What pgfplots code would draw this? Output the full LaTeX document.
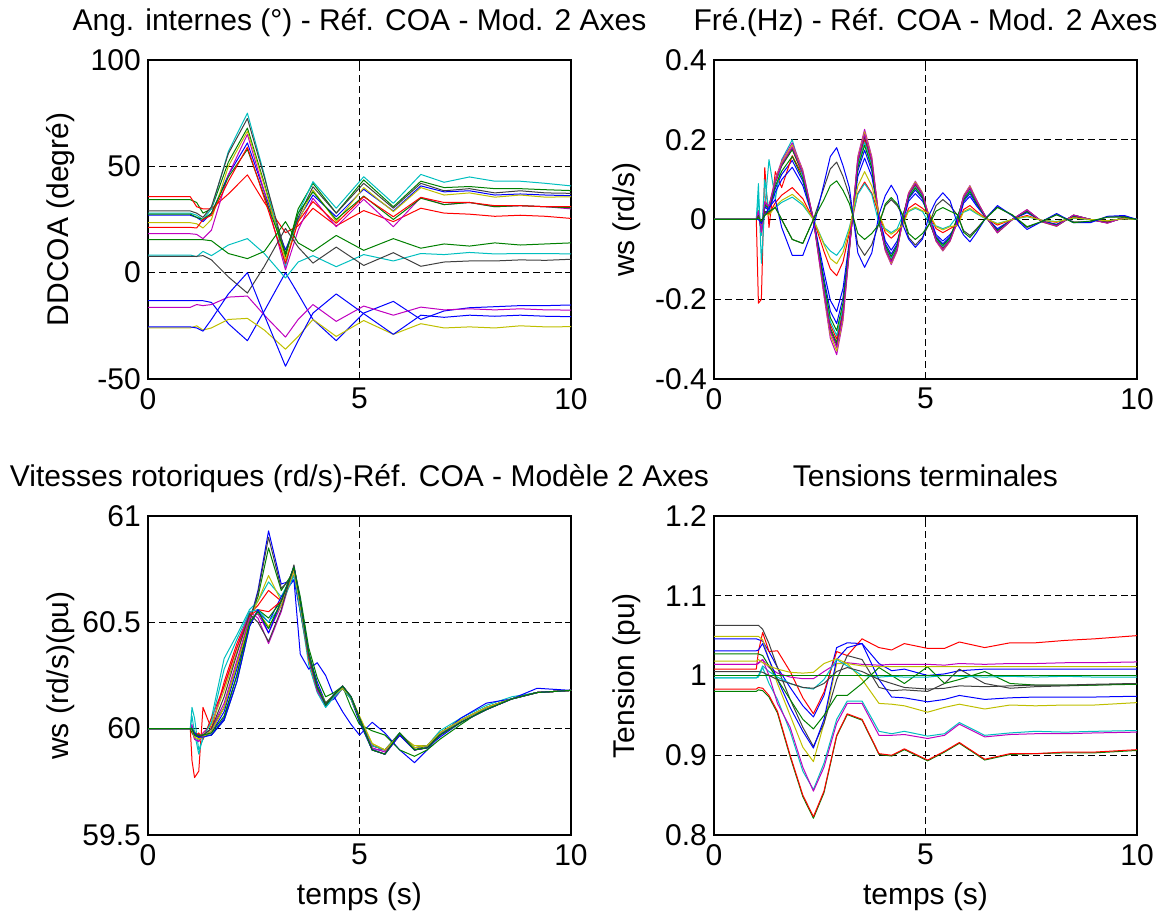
\documentclass[border=0pt]{standalone}
\usepackage{fontspec}
\setmainfont{Liberation Sans}
\usepackage{pgfplots}
\usepackage{pgfplotstable}
\pgfplotsset{compat=1.18}

\definecolor{mb}{rgb}{0,0,1}
\definecolor{mg}{rgb}{0,0.5,0}
\definecolor{mr}{rgb}{1,0,0}
\definecolor{mc}{rgb}{0,0.75,0.75}
\definecolor{mm}{rgb}{0.75,0,0.75}
\definecolor{my}{rgb}{0.75,0.75,0}
\definecolor{mk}{rgb}{0.25,0.25,0.25}

\newcommand\fs{\fontsize{30bp}{34bp}\selectfont}

% angles internes (deg)
\pgfplotstableread{
t bl1 gr1 rd1 cy1 mg1 ye1 gy1 bl2 gr2 rd2 cy2 mg2 ye2 gy2 bl3 gr3
0 27 34.3 35.7 28 18.3 23.5 29 -13.2 27.5 21.3 8.3 -16.3 -26 7.7 -25.5 15.5
1.0 27 34.3 35.7 28 18.3 23.5 29 -13.2 27.5 21.3 8.3 -16.3 -26 7.7 -25.5 15.5
1.15 26 33 31 27 18 23 28 -13.2 26 21 7.5 -15 -25 7.7 -26 15.5
1.3 24 28 30 25 16 21 26 -13.2 25 25 10 -15.5 -27 8 -27.5 15.5
1.5 28 30 30 30 20 25 31 -14 28 27 8 -15 -26 6 -22 15
1.9 46 52 37 57 46 50 56 -24 45 43 13 -11.5 -22 -2 -10 9
2.35 61 68 46 75 65 66.5 72.5 -32 58 59 16 -11 -21.5 -9.6 0 6.6
2.75 38 42 33 46 38 41 45 -18 36 35 9 -20 -27 3 -20 10
3.25 10.7 7.5 18.8 2.8 1.3 6 9 0 9 4.4 -2.5 -30.3 -36 20.8 -44 24
3.55 25 30 22 28 20 24 26 -10 28 24 5 -22 -30 12 -32 14
3.9 36.5 42 30.3 42.8 35 38.9 40.4 -22 38 33.4 8 -15 -22 4.5 -19 10
4.45 26.3 28 22 30.3 21.6 24 28 -32 25 23.2 2.8 -22.9 -30 12 -10 17.5
5.1 39.2 43.6 29.2 45.1 34.5 40 42 -19 36 35.7 8.5 -15.7 -22.5 3.4 -19.3 10.5
5.8 29 31 24 32.6 21.6 28.7 30.3 -13.5 25 26.3 5.5 -20 -29 9.4 -29 16
6.45 40.8 43 30.3 46.2 35.4 40 42 -22 35 35.4 9 -16.2 -24 3 -20 11.5
7.0 38 40 28 42.5 32 36.5 38.5 -18 32 33 8.5 -17.5 -26 5 -21 13.5
7.6 38.5 40.5 27.5 45 33 37.5 39.5 -16.5 33 33 9.5 -17 -25.5 5.5 -20 12.5
8.2 36.5 39.5 26.5 43 31 35.5 37.5 -16 31 31.5 8.8 -17.5 -26 5.5 -20.5 14
8.8 37 39.5 27 43 31.5 36.5 38.5 -15.5 31.5 31.5 9 -17 -25 6 -20 13
9.4 36.5 39 26.5 42 31 35.5 37.5 -15.5 31 31 9 -17.5 -25.5 5.8 -20.5 13.5
10 36.2 38.6 25.5 40.8 30 35.7 37.3 -15.2 30.5 31 8.8 -17.6 -25.4 6.3 -20.7 14
}\tangle

% frequences
\pgfplotstableread{
t bl1 gr1 rd1 cy1 mg1 ye1 gy1 bl2 gr2 rd2 cy2 mg2 ye2 gy2 bl3 gr3
0 0 0 0 0 0 0 0 0 0 0 0 0 0 0 0 0
1.0 0 0 0 0 0 0 0 0 0 0 0 0 0 0 0 0
1.05 0.017 0.021 -0.21 0.09 0.023 0.022 0.021 0.015 0.019 0.009 0.05 0.021 0.007 0.01 0 0.005
1.12 -0.026 -0.031 -0.2 -0.11 -0.034 -0.033 -0.032 -0.023 -0.028 -0.014 -0.04 -0.032 -0.011 -0.01 -0.01 -0.005
1.2 0.035 0.041 0.13 0.03 0.045 0.044 0.042 0.031 0.037 0.019 0.1 0.043 0.015 0.02 0.01 0.01
1.3 0.026 0.031 -0.02 0.15 0.034 0.033 0.032 0.023 0.028 0.014 0.02 0.032 0.011 0.02 0.03 0.02
1.45 0.078 0.093 0.12 0.05 0.102 0.099 0.095 0.069 0.084 0.042 0.03 0.096 0.033 0.03 0.05 0.03
1.6 0.113 0.134 0.08 0.15 0.147 0.143 0.137 0.1 0.121 0.061 0.043 0.139 0.048 0 -0.02 0
1.85 0.148 0.175 0.16 0.2 0.192 0.187 0.179 0.131 0.158 0.08 0.056 0.182 0.063 -0.05 -0.09 -0.05
2.1 0.096 0.113 0.11 0.107 0.124 0.121 0.116 0.085 0.102 0.052 0.036 0.118 0.041 -0.06 -0.09 -0.06
2.35 0 0 0 0 0 0 0 0 0 0 0 0 0 0 -0.02 0
2.6 -0.148 -0.175 -0.17 -0.165 -0.192 -0.187 -0.179 -0.131 -0.158 -0.08 -0.06 -0.182 -0.063 0.08 0.09 0.05
2.75 -0.23 -0.272 -0.264 -0.256 -0.298 -0.29 -0.277 -0.203 -0.246 -0.124 -0.079 -0.282 -0.098 0.127 0.158 0.085
2.9 -0.261 -0.309 -0.3 -0.291 -0.339 -0.33 -0.315 -0.231 -0.279 -0.141 -0.09 -0.321 -0.111 0.144 0.18 0.097
3.05 -0.196 -0.232 -0.225 -0.218 -0.254 -0.248 -0.236 -0.173 -0.209 -0.106 -0.068 -0.241 -0.083 0.108 0.135 0.073
3.2 -0.061 -0.072 -0.07 -0.068 -0.079 -0.077 -0.074 -0.054 -0.065 -0.033 -0.02 -0.075 -0.026 0.06 0.08 0.04
3.4 0.122 0.144 0.14 0.136 0.158 0.154 0.147 0.108 0.13 0.066 0.063 0.15 0.084 -0.063 -0.084 -0.035
3.56 0.174 0.206 0.2 0.194 0.226 0.22 0.21 0.154 0.186 0.094 0.09 0.214 0.12 -0.09 -0.12 -0.05
3.73 0.122 0.144 0.14 0.136 0.158 0.154 0.147 0.108 0.13 0.066 0.063 0.15 0.084 -0.063 -0.084 -0.035
3.9 0.005 -0.005 0.008 -0.006 0 0.004 -0.004 0.01 -0.008 0.012 -0.01 0.003 0.015 -0.01 0.012 -0.012
4.05 -0.061 -0.072 -0.07 -0.068 -0.079 -0.077 -0.074 -0.054 -0.065 -0.033 -0.023 -0.075 -0.026 0.035 0.06 0.039
4.19 -0.087 -0.103 -0.1 -0.097 -0.113 -0.11 -0.105 -0.077 -0.093 -0.047 -0.033 -0.107 -0.037 0.05 0.086 0.055
4.33 -0.061 -0.072 -0.07 -0.068 -0.079 -0.077 -0.074 -0.054 -0.065 -0.033 -0.023 -0.075 -0.026 0.035 0.06 0.039
4.46 -0.005 0.005 -0.008 0.006 0 -0.004 0.004 -0.01 0.008 -0.012 0.01 -0.003 -0.015 0.01 -0.012 0.012
4.6 0.052 0.062 0.06 0.057 0.067 0.066 0.062 0.046 0.055 0.028 0.02 0.064 0.022 -0.045 -0.049 -0.035
4.76 0.074 0.088 0.085 0.082 0.096 0.094 0.089 0.065 0.079 0.04 0.028 0.091 0.031 -0.064 -0.07 -0.05
4.93 0.052 0.062 0.06 0.057 0.067 0.066 0.062 0.046 0.055 0.028 0.02 0.064 0.022 -0.045 -0.049 -0.035
5.09 0.005 -0.005 0.008 -0.006 0 0.004 -0.004 0.01 -0.008 0.012 -0.01 0.003 0.015 -0.01 0.012 -0.012
5.25 -0.043 -0.05 -0.049 -0.048 -0.055 -0.054 -0.052 -0.038 -0.046 -0.023 -0.016 -0.053 -0.018 0.035 0.047 0.021
5.41 -0.061 -0.072 -0.07 -0.068 -0.079 -0.077 -0.074 -0.054 -0.065 -0.033 -0.023 -0.075 -0.026 0.05 0.067 0.03
5.58 -0.043 -0.05 -0.049 -0.048 -0.055 -0.054 -0.052 -0.038 -0.046 -0.023 -0.016 -0.053 -0.018 0.035 0.047 0.021
5.76 -0.005 0.005 -0.008 0.006 0 -0.004 0.004 -0.01 0.008 -0.012 0.01 -0.003 -0.015 0.01 -0.012 0.012
5.9 0.046 0.054 0.053 0.051 0.06 0.058 0.055 0.041 0.049 0.025 0.018 0.056 0.02 -0.028 -0.039 -0.032
6.05 0.065 0.077 0.075 0.073 0.085 0.083 0.079 0.058 0.07 0.035 0.025 0.08 0.028 -0.04 -0.056 -0.045
6.2 0.039 0.046 0.045 0.044 0.051 0.05 0.047 0.035 0.042 0.021 0.015 0.048 0.017 -0.024 -0.034 -0.027
6.4 0.009 0.01 0.01 0.01 0.011 0.011 0.011 0.008 0.009 0.005 0.003 0.011 0.004 0 0 0
6.7 -0.026 -0.031 -0.03 -0.029 -0.034 -0.033 -0.032 -0.023 -0.028 -0.014 -0.01 -0.032 -0.011 0.032 0.035 0.03
7.05 0 0 0 0 0 0 0 0 0 0 0 0 0 0.01 0.01 0.012
7.4 0.019 0.023 0.022 0.021 0.025 0.024 0.023 0.017 0.02 0.01 0.007 0.024 0.008 -0.02 -0.025 -0.018
7.75 -0.004 -0.005 -0.005 -0.005 -0.006 -0.006 -0.005 -0.004 -0.005 -0.002 -0.002 -0.005 -0.002 -0.005 -0.005 -0.005
8.1 -0.013 -0.015 -0.015 -0.015 -0.017 -0.017 -0.016 -0.012 -0.014 -0.007 -0.005 -0.016 -0.006 0.012 0.015 0.012
8.5 0.009 0.01 0.01 0.01 0.011 0.011 0.011 0.008 0.009 0.005 0.003 0.011 0.004 -0.006 -0.008 -0.008
8.9 0 0 0 0 0 0 0 0 0 0 0 0 0 -0.006 -0.008 -0.004
9.3 -0.007 -0.008 -0.008 -0.008 -0.009 -0.009 -0.008 -0.006 -0.007 -0.004 -0.003 -0.009 -0.003 0.006 0.008 0.006
9.7 0.004 0.005 0.005 0.005 0.006 0.006 0.005 0.004 0.005 0.002 0.002 0.005 0.002 0.008 0.01 0.006
10 0 0 0 0 0 0 0 0 0 0 0 0 0 0 0 0
}\tfreq

% vitesses rotoriques
\pgfplotstableread{
t bl1 gr1 rd1 cy1 mg1 ye1 gy1 bl2 gr2 rd2 cy2 mg2 ye2 gy2 bl3 gr3
0 60 60 60 60 60 60 60 60 60 60 60 60 60 60 60 60
1.0 60 60 60 60 60 60 60 60 60 60 60 60 60 60 60 60
1.04 60 60.01 59.85 60.1 60.02 60 60 60 59.98 60 60.06 60 60 60 60 60
1.1 59.97 59.98 59.77 60.05 59.95 59.99 59.98 59.98 59.96 59.96 59.98 59.95 59.96 59.97 59.98 59.97
1.2 59.96 59.96 59.8 59.9 59.94 59.95 59.97 59.96 59.97 59.98 59.88 59.94 59.95 59.96 59.96 59.97
1.3 59.97 59.97 60.1 59.95 59.98 59.97 59.96 59.97 59.97 59.95 59.96 59.97 59.96 59.97 59.96 59.97
1.5 59.98 60 60 60.05 60.02 60.02 59.99 59.97 59.97 60.05 60.03 60 59.99 60 59.97 59.98
1.8 60.08 60.1 60.22 60.33 60.2 60.18 60.1 60.05 60.04 60.2 60.28 60.12 60.1 60.15 60.04 60.06
2.1 60.28 60.3 60.4 60.44 60.38 60.36 60.3 60.25 60.22 60.38 60.42 60.32 60.3 60.35 60.22 60.25
2.4 60.5 60.52 60.54 60.56 60.55 60.52 60.5 60.5 60.48 60.53 60.55 60.52 60.5 60.54 60.48 60.5
2.6 60.65 60.62 60.58 60.6 60.52 60.6 60.64 60.55 60.56 60.56 60.56 60.54 60.55 60.5 60.56 60.55
2.85 60.93 60.85 60.65 60.69 60.4 60.72 60.9 60.5 60.52 60.55 60.5 60.45 60.48 60.41 60.45 60.47
3.15 60.68 60.65 60.6 60.62 60.55 60.6 60.66 60.62 60.6 60.6 60.58 60.58 60.58 60.56 60.6 60.6
3.45 60.7 60.74 60.76 60.74 60.76 60.75 60.72 60.7 60.76 60.75 60.72 60.74 60.74 60.77 60.76 60.76
3.6 60.55 60.55 60.58 60.56 60.6 60.58 60.56 60.35 60.62 60.57 60.56 60.58 60.58 60.6 60.6 60.6
3.8 60.35 60.33 60.33 60.3 60.33 60.32 60.34 60.28 60.38 60.33 60.34 60.34 60.35 60.34 60.36 60.36
4.0 60.22 60.2 60.18 60.17 60.18 60.18 60.2 60.31 60.24 60.18 60.18 60.18 60.2 60.19 60.2 60.2
4.2 60.12 60.12 60.11 60.1 60.11 60.11 60.12 60.25 60.15 60.11 60.1 60.11 60.12 60.12 60.11 60.11
4.4 60.14 60.16 60.16 60.15 60.16 60.15 60.15 60.15 60.17 60.15 60.15 60.16 60.16 60.16 60.16 60.16
4.6 60.19 60.2 60.2 60.19 60.2 60.19 60.2 60.08 60.2 60.19 60.19 60.2 60.19 60.2 60.2 60.2
4.8 60.14 60.14 60.15 60.14 60.15 60.14 60.15 60.02 60.1 60.14 60.14 60.15 60.15 60.15 60.15 60.15
5.0 60.03 60.04 60.05 60.05 60.05 60.05 60.05 59.97 60.02 60.05 60.05 60.05 60.06 60.05 60.05 60.05
5.3 59.9 59.9 59.92 59.92 59.9 59.93 59.92 60.03 59.99 59.92 59.92 59.91 59.93 59.9 59.9 59.9
5.6 59.9 59.88 59.9 59.9 59.88 59.9 59.9 59.98 59.97 59.9 59.9 59.89 59.9 59.88 59.88 59.88
5.95 59.97 59.98 59.97 59.98 59.97 59.97 59.98 59.9 59.9 59.97 59.97 59.97 59.97 59.97 59.97 59.98
6.3 59.9 59.9 59.91 59.91 59.9 59.92 59.91 59.84 59.87 59.91 59.91 59.9 59.91 59.9 59.9 59.9
6.6 59.91 59.92 59.92 59.92 59.91 59.92 59.92 59.9 59.9 59.92 59.92 59.91 59.92 59.91 59.91 59.91
6.9 59.96 59.97 59.98 59.99 59.97 59.98 59.98 59.97 59.95 59.98 59.98 59.97 59.98 59.97 59.97 59.97
7.4 60.03 60.03 60.04 60.05 60.03 60.04 60.04 60.05 60.02 60.04 60.04 60.03 60.04 60.03 60.03 60.03
8.0 60.09 60.09 60.1 60.11 60.09 60.1 60.1 60.12 60.1 60.1 60.1 60.09 60.1 60.09 60.09 60.09
8.6 60.14 60.14 60.14 60.15 60.14 60.14 60.14 60.14 60.14 60.14 60.14 60.14 60.14 60.14 60.14 60.14
9.2 60.17 60.17 60.17 60.17 60.17 60.17 60.17 60.19 60.17 60.17 60.17 60.17 60.17 60.17 60.17 60.17
10 60.18 60.18 60.18 60.18 60.18 60.18 60.18 60.18 60.18 60.18 60.18 60.18 60.18 60.18 60.18 60.18
}\tspeed

% tensions terminales
\pgfplotstableread{
t bl1 gr1 rd1 cy1 mg1 ye1 gy1 bl2 gr2 rd2 cy2 mg2 ye2 gy2 bl3 gr3
0 1.046 0.98 1.008 0.997 1.014 1.049 1.063 1.031 1.027 0.983 0.997 1.014 1.018 1.005 1 1
1.0 1.046 0.98 1.008 0.997 1.014 1.049 1.063 1.031 1.027 0.983 0.997 1.014 1.018 1.005 1 1
1.05 1.045 0.982 1.03 0.998 1.015 1.049 1.063 1.032 1.027 0.985 1.0 1.016 1.02 1.005 1 1
1.15 1.043 0.981 1.054 1.01 1.02 1.045 1.058 1.04 1.025 0.984 1.012 1.02 1.016 1.004 1 1
1.3 1.03 0.973 1.03 0.99 1.01 1.02 1.04 1.02 1.012 0.975 1.005 1.0 1.012 1.0 1 1
1.5 1.01 0.953 1.031 0.97 1.003 0.99 1.01 0.995 0.995 0.955 0.998 0.965 1.008 0.995 1 1
1.8 0.985 0.898 1.005 0.93 0.998 0.95 0.97 0.96 0.97 0.9 0.99 0.935 1.004 0.99 1 1
2.1 0.962 0.848 0.972 0.88 0.996 0.91 0.935 0.93 0.945 0.85 0.985 0.885 1.003 0.985 1 1
2.35 0.948 0.821 0.952 0.857 0.996 0.892 0.911 0.909 0.933 0.823 0.983 0.855 1.004 0.984 1 1
2.6 0.975 0.853 0.979 0.89 1.005 0.94 0.94 0.945 0.95 0.855 0.995 0.885 1.015 0.99 1 1
2.9 1.035 0.924 1.03 0.945 1.015 1.015 0.995 1.02 0.975 0.925 1.02 0.94 1.021 1.005 1 1
3.15 1.041 0.951 1.025 0.968 1.016 1.015 1.025 1.035 0.975 0.952 1.012 0.965 1.015 1.01 1 1
3.5 1.04 0.944 1.046 0.968 1.014 0.995 1.02 1.04 0.99 0.945 1.0 0.965 1.012 1.005 1 1
3.9 1.015 0.901 1.035 0.93 1.013 0.965 0.985 0.995 1.01 0.902 0.998 0.925 1.011 0.995 1 1
4.2 1.006 0.899 1.032 0.927 1.014 0.964 0.981 0.973 1.0 0.9 0.999 0.925 1.011 0.99 1 1
4.5 1.008 0.907 1.04 0.93 1.014 0.962 0.982 0.972 0.99 0.908 0.998 0.926 1.011 0.985 1 1
5.05 1.0 0.893 1.034 0.924 1.014 0.954 0.98 0.967 1.011 0.894 0.998 0.921 1.011 0.983 1 1
5.45 1.002 0.904 1.034 0.927 1.013 0.96 0.99 0.97 0.99 0.905 1.0 0.925 1.011 0.984 1 1
5.8 1.006 0.915 1.042 0.941 1.015 0.964 1.008 0.975 0.995 0.916 0.999 0.939 1.011 0.987 1 1
6.4 1.008 0.894 1.035 0.925 1.014 0.958 0.99 0.97 1.005 0.895 0.998 0.923 1.011 0.986 1 1
7.0 1.008 0.901 1.041 0.928 1.015 0.963 0.984 0.972 0.99 0.902 0.999 0.926 1.011 0.987 1 1
7.6 1.008 0.902 1.041 0.93 1.015 0.962 0.986 0.973 0.988 0.902 0.998 0.927 1.011 0.988 1 1
8.3 1.008 0.903 1.044 0.929 1.016 0.963 0.987 0.973 0.988 0.904 0.999 0.927 1.011 0.988 1 1
9.0 1.008 0.903 1.046 0.93 1.016 0.963 0.988 0.973 0.988 0.904 0.998 0.928 1.011 0.989 1 1
10 1.008 0.906 1.05 0.931 1.017 0.966 0.99 0.974 0.989 0.907 0.998 0.929 1.011 0.99 1 1
}\tvolt

% the 16 machines, matlab colour order
\newcommand\allplots[1]{%
  \addplot[mb] table[x=t,y=bl1]{#1};
  \addplot[mg] table[x=t,y=gr1]{#1};
  \addplot[mr] table[x=t,y=rd1]{#1};
  \addplot[mc] table[x=t,y=cy1]{#1};
  \addplot[mm] table[x=t,y=mg1]{#1};
  \addplot[my] table[x=t,y=ye1]{#1};
  \addplot[mk] table[x=t,y=gy1]{#1};
  \addplot[mb] table[x=t,y=bl2]{#1};
  \addplot[mg] table[x=t,y=gr2]{#1};
  \addplot[mr] table[x=t,y=rd2]{#1};
  \addplot[mc] table[x=t,y=cy2]{#1};
  \addplot[mm] table[x=t,y=mg2]{#1};
  \addplot[my] table[x=t,y=ye2]{#1};
  \addplot[mk] table[x=t,y=gy2]{#1};
  \addplot[mb] table[x=t,y=bl3]{#1};
  \addplot[mg] table[x=t,y=gr3]{#1};
}

\pgfplotsset{
  mat/.style={
    anchor=south west,
    width=423bp, height=319bp, scale only axis,
    xmin=0, xmax=10, xtick={0,5,10}, xticklabels={0,5,10},
    grid=major,
    major grid style={black, line width=0.7bp, dash pattern=on 7bp off 4bp},
    axis line style={line width=1.3bp},
    tick align=inside, major tick length=6bp,
    tick style={black, line width=0.8bp},
    no markers,
    every axis plot/.append style={line width=1bp, line join=round},
    ticklabel style={font=\fs},
    xticklabel style={anchor=north, inner ysep=0bp, yshift=-9bp},
    yticklabel style={anchor=east, inner xsep=0bp, xshift=-7bp},
    title style={font=\fs, at={(0.5,1.075)}, anchor=base},
    xlabel style={font=\fs, at={(0.5,-0.219)}, anchor=base},
    ylabel style={font=\fs, at={(-0.189,0.5)}, anchor=base, rotate=0},
  }
}

\begin{document}
\begin{tikzpicture}
\useasboundingbox (0,0) rectangle (1162bp,915bp);

\begin{axis}[mat, at={(148bp,536bp)},
  ymin=-50, ymax=100, ytick={-50,0,50,100}, yticklabels={-50,0,50,100},
  title={Ang. internes (°) - Réf. COA - Mod. 2 Axes},
  ylabel={DDCOA (degré)}]
\allplots{\tangle}
\end{axis}

\begin{axis}[mat, at={(714bp,536bp)},
  ymin=-0.4, ymax=0.4, ytick={-0.4,-0.2,0,0.2,0.4},
  yticklabels={-0.4,-0.2,0,0.2,0.4},
  title={Fré.(Hz) - Réf. COA - Mod. 2 Axes},
  ylabel={ws (rd/s)}]
\allplots{\tfreq}
\end{axis}

\begin{axis}[mat, at={(148bp,80bp)},
  ymin=59.5, ymax=61, ytick={59.5,60,60.5,61}, yticklabels={59.5,60,60.5,61},
  title={Vitesses rotoriques (rd/s)-Réf. COA - Modèle 2 Axes},
  xlabel={temps (s)}, ylabel={ws (rd/s)(pu)}]
\allplots{\tspeed}
\end{axis}

\begin{axis}[mat, at={(714bp,80bp)},
  ymin=0.8, ymax=1.2, ytick={0.8,0.9,1,1.1,1.2},
  yticklabels={0.8,0.9,1,1.1,1.2},
  title={Tensions terminales},
  xlabel={temps (s)}, ylabel={Tension (pu)}]
\allplots{\tvolt}
\end{axis}

\end{tikzpicture}
\end{document}
